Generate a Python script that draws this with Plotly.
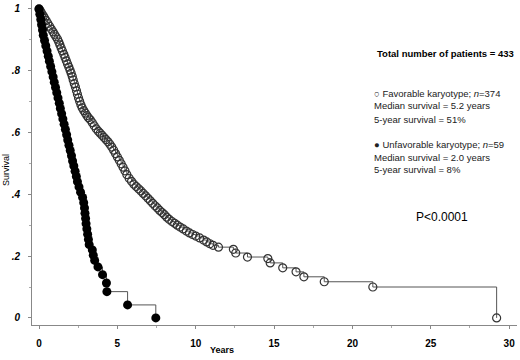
import plotly.graph_objects as go

# Favorable karyotype (n=374) Kaplan-Meier estimates
fav_t = [0.00, 0.06, 0.12, 0.19, 0.28, 0.36, 0.46, 0.56, 0.67, 0.78, 0.89, 0.98, 1.08, 1.18,
         1.26, 1.33, 1.41, 1.49, 1.58, 1.66, 1.74, 1.82, 1.90, 1.98, 2.05, 2.12, 2.18, 2.25,
         2.32, 2.39, 2.45, 2.52, 2.59, 2.67, 2.75, 2.85, 2.95, 3.05, 3.15, 3.27, 3.40, 3.52,
         3.65, 3.78, 3.90, 4.02, 4.15, 4.28, 4.40, 4.52, 4.64, 4.76, 4.88, 5.00, 5.12, 5.24,
         5.36, 5.48, 5.60, 5.75, 5.90, 6.05, 6.20, 6.35, 6.50, 6.65, 6.80, 6.95, 7.10, 7.25,
         7.40, 7.55, 7.70, 7.85, 8.00, 8.15, 8.30, 8.48, 8.65, 8.82, 9.00, 9.20, 9.40, 9.60,
         9.80, 10.00, 10.25, 10.50, 10.70, 10.90, 11.10, 11.45, 12.40, 12.55, 13.30, 14.60,
         14.75, 15.55, 16.40, 16.90, 18.20, 21.30, 29.20]
fav_s = [1.000, 0.995, 0.990, 0.984, 0.977, 0.970, 0.962, 0.953, 0.944, 0.935, 0.926, 0.918,
         0.910, 0.902, 0.893, 0.884, 0.874, 0.864, 0.853, 0.843, 0.832, 0.822, 0.812, 0.802,
         0.792, 0.781, 0.770, 0.758, 0.747, 0.735, 0.724, 0.712, 0.701, 0.690, 0.680, 0.671,
         0.663, 0.655, 0.648, 0.641, 0.632, 0.622, 0.612, 0.604, 0.598, 0.591, 0.584, 0.577,
         0.570, 0.562, 0.553, 0.543, 0.532, 0.521, 0.510, 0.499, 0.488, 0.476, 0.464, 0.452,
         0.442, 0.433, 0.425, 0.418, 0.411, 0.403, 0.395, 0.387, 0.379, 0.371, 0.363, 0.356,
         0.348, 0.341, 0.334, 0.326, 0.319, 0.312, 0.306, 0.300, 0.294, 0.288, 0.281, 0.275,
         0.270, 0.265, 0.259, 0.252, 0.246, 0.240, 0.235, 0.229, 0.222, 0.210, 0.197, 0.192,
         0.178, 0.162, 0.149, 0.133, 0.117, 0.100, 0.000]

# Unfavorable karyotype (n=59)
unf_t = [0.00, 0.05, 0.11, 0.16, 0.22, 0.27, 0.35, 0.43, 0.51, 0.59, 0.66, 0.74, 0.82, 0.90,
         0.97, 1.05, 1.13, 1.21, 1.29, 1.36, 1.44, 1.52, 1.60, 1.68, 1.76, 1.83, 1.91, 1.99,
         2.07, 2.14, 2.22, 2.30, 2.38, 2.45, 2.55, 2.65, 2.78, 2.85, 2.90, 2.93, 2.97, 3.00,
         3.05, 3.10, 3.15, 3.20, 3.40, 3.46, 3.55, 3.76, 4.05, 4.30, 4.33, 5.65, 7.45]
unf_s = [1.000, 0.983, 0.966, 0.949, 0.932, 0.915, 0.898, 0.881, 0.864, 0.847, 0.831, 0.814,
         0.797, 0.780, 0.763, 0.746, 0.729, 0.712, 0.695, 0.678, 0.661, 0.644, 0.627, 0.610,
         0.593, 0.576, 0.559, 0.542, 0.525, 0.508, 0.492, 0.475, 0.458, 0.441, 0.424, 0.407,
         0.390, 0.373, 0.356, 0.339, 0.322, 0.305, 0.288, 0.271, 0.254, 0.237, 0.220, 0.203,
         0.186, 0.165, 0.140, 0.113, 0.085, 0.042, 0.000]

x_ticks = [0, 5, 10, 15, 20, 25, 30]
y_ticks = [0, 0.2, 0.4, 0.6, 0.8, 1.0]
y_tick_labels = ["0", ".2", ".4", ".6", ".8", "1"]

fig = go.Figure()
fig.add_trace(go.Scatter(
    x=fav_t, y=fav_s, mode="lines+markers", line=dict(shape="hv", color="#555", width=1),
    marker=dict(symbol="circle-open", size=8, color="#333", line=dict(width=1.2)),
    showlegend=False, name="Favorable", cliponaxis=False))
fig.add_trace(go.Scatter(
    x=unf_t, y=unf_s, mode="lines+markers", line=dict(shape="hv", color="#555", width=1),
    marker=dict(symbol="circle", size=9, color="black"),
    showlegend=False, name="Unfavorable", cliponaxis=False))

L, R, T, B = 32, 3, 0, 35
W, H = 520, 360
pw, ph = W - L - R, H - T - B

tickfont = dict(family="Liberation Sans, Arial", size=10, color="black")
fig.update_layout(
    width=W, height=H, margin=dict(l=L, r=R, t=T, b=B, pad=0),
    paper_bgcolor="white", plot_bgcolor="white",
    font=dict(family="Liberation Sans, Arial", color="black"),
    xaxis=dict(range=[-0.45, 30.5], tickvals=x_ticks, ticktext=[f"<b>{v}</b>" for v in x_ticks],
               showgrid=False, zeroline=False, showline=True, linecolor="#888", linewidth=1,
               ticks="outside", ticklen=3, tickcolor="#888", tickfont=tickfont, automargin=False,
               ticklabelstandoff=6,
               minor=dict(dtick=2.5, ticks="outside", ticklen=2, tickcolor="#aaa")),
    yaxis=dict(range=[-0.023, 1.029], tickvals=y_ticks,
               ticktext=[f"<b><i>{t}</i></b>" for t in y_tick_labels],
               showgrid=False, zeroline=False, showline=True, linecolor="#888", linewidth=1,
               ticks="outside", ticklen=3, tickcolor="#888", tickfont=tickfont, automargin=False,
               ticklabelstandoff=6,
               minor=dict(dtick=0.1, ticks="outside", ticklen=2, tickcolor="#aaa")),
)


def px(x, y):
    return (x - L) / pw, (H - B - y) / ph


lf = dict(family="Liberation Sans, Arial", size=9.5, color="#222")
annos = [
    (445, 53, "<b>Total number of patients = 433</b>", "center", 0, dict(family="Liberation Sans, Arial", size=9.5, color="black")),
    (372, 93, "\u25cb Favorable karyotype; <i>n</i>=374", "left", 0, lf),
    (372, 106, "Median survival = 5.2 years", "left", 0, lf),
    (372, 119, "5-year survival = 51%", "left", 0, lf),
    (372, 144, "\u25cf Unfavorable karyotype; <i>n</i>=59", "left", 0, lf),
    (372, 157, "Median survival = 2.0 years", "left", 0, lf),
    (372, 170, "5-year survival = 8%", "left", 0, lf),
    (442, 217, "P<0.0001", "center", 0, dict(family="Liberation Sans, Arial", size=12, color="black")),
    (222, 350, "<b>Years</b>", "center", 0, dict(family="Liberation Sans, Arial", size=9, color="black")),
    (6, 170, "Survival", "center", -90, dict(family="Liberation Sans, Arial", size=9, color="black")),
]
for x, y, txt, anc, ang, f in annos:
    xp, yp = px(x, y)
    fig.add_annotation(x=xp, y=yp, xref="paper", yref="paper", text=txt, textangle=ang,
                       showarrow=False, xanchor=anc, yanchor="middle", font=f)

fig.write_html("out.html", config={"displayModeBar": False},
               post_script="document.body.style.margin='0';document.body.style.overflow='hidden';")
